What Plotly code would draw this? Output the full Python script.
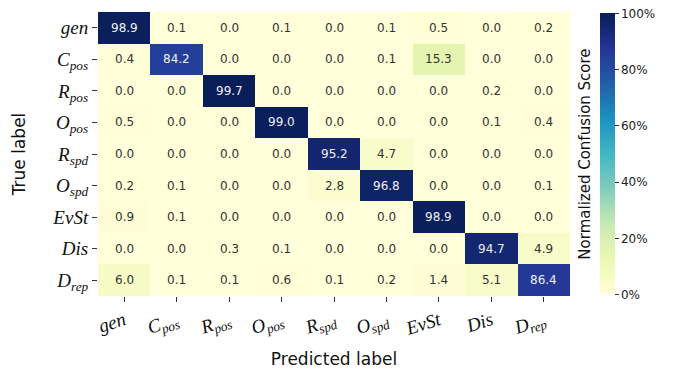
import plotly.graph_objects as go

classes = ["gen", "Cpos", "Rpos", "Opos", "Rspd", "Ospd", "EvSt", "Dis", "Drep"]
class_labels = ["<i>gen</i>", "<i>C</i><sub><i>pos</i></sub>", "<i>R</i><sub><i>pos</i></sub>",
                "<i>O</i><sub><i>pos</i></sub>", "<i>R</i><sub><i>spd</i></sub>", "<i>O</i><sub><i>spd</i></sub>",
                "<i>EvSt</i>", "<i>Dis</i>", "<i>D</i><sub><i>rep</i></sub>"]

row_gen  = [98.9, 0.1, 0.0, 0.1, 0.0, 0.1, 0.5, 0.0, 0.2]
row_cpos = [0.4, 84.2, 0.0, 0.0, 0.0, 0.1, 15.3, 0.0, 0.0]
row_rpos = [0.0, 0.0, 99.7, 0.0, 0.0, 0.0, 0.0, 0.2, 0.0]
row_opos = [0.5, 0.0, 0.0, 99.0, 0.0, 0.0, 0.0, 0.1, 0.4]
row_rspd = [0.0, 0.0, 0.0, 0.0, 95.2, 4.7, 0.0, 0.0, 0.0]
row_ospd = [0.2, 0.1, 0.0, 0.0, 2.8, 96.8, 0.0, 0.0, 0.1]
row_evst = [0.9, 0.1, 0.0, 0.0, 0.0, 0.0, 98.9, 0.0, 0.0]
row_dis  = [0.0, 0.0, 0.3, 0.1, 0.0, 0.0, 0.0, 94.7, 4.9]
row_drep = [6.0, 0.1, 0.1, 0.6, 0.1, 0.2, 1.4, 5.1, 86.4]

z = [row_gen, row_cpos, row_rpos, row_opos, row_rspd, row_ospd, row_evst, row_dis, row_drep]

cbar_vals = [0, 20, 40, 60, 80, 100]
cbar_text = ["0%", "20%", "40%", "60%", "80%", "100%"]

ylgnbu = ["#ffffd9", "#edf8b1", "#c7e9b4", "#7fcdbb", "#41b6c4",
          "#1d91c0", "#225ea8", "#253494", "#081d58"]
colorscale = [[i / (len(ylgnbu) - 1), c] for i, c in enumerate(ylgnbu)]

fig = go.Figure()
fig.add_trace(go.Heatmap(
    z=z, x=classes, y=classes, zmin=0, zmax=100,
    colorscale=colorscale, xgap=0, ygap=0,
    colorbar=dict(
        x=1.063, xanchor="left", xpad=0, ypad=0, y=0.5, yanchor="middle", len=0.99,
        thickness=15, outlinewidth=0, ticks="outside", ticklen=4,
        tickcolor="#333", tickmode="array", tickvals=cbar_vals, ticktext=cbar_text,
        tickfont=dict(family="DejaVu Sans", size=12, color="#222"),
    ),
    hoverinfo="skip",
))

for i, rname in enumerate(classes):
    for j, cname in enumerate(classes):
        v = z[i][j]
        fig.add_annotation(
            x=cname, y=rname, text=f"{v:.1f}", showarrow=False,
            font=dict(family="DejaVu Sans", size=12,
                      color="#f0f0f0" if v > 50 else "#333333"),
        )

fig.add_annotation(
    xref="paper", yref="paper", x=1.031, y=0.5, text="Normalized Confusion Score",
    textangle=-90, showarrow=False, xanchor="center", yanchor="middle",
    font=dict(family="DejaVu Sans", size=15, color="#111"),
)

fig.update_xaxes(
    tickvals=classes, ticktext=class_labels, tickangle=-18,
    ticks="outside", ticklen=5, tickcolor="#333", showgrid=False, zeroline=False,
    tickfont=dict(family="Liberation Serif", size=19, color="#111"),
    title=dict(text="Predicted label", font=dict(family="DejaVu Sans", size=17, color="#111"), standoff=13),
)
fig.update_yaxes(
    tickvals=classes, ticktext=class_labels, autorange="reversed",
    ticks="outside", ticklen=5, tickcolor="#333", showgrid=False, zeroline=False,
    tickfont=dict(family="Liberation Serif", size=19, color="#111"),
    title=dict(text="True label", font=dict(family="DejaVu Sans", size=17, color="#111"), standoff=22),
)

fig.update_layout(
    width=675, height=372,
    margin=dict(l=98, r=105, t=12, b=76, autoexpand=False),
    paper_bgcolor="white", plot_bgcolor="white",
)

fig.write_html("out.html", config={"displayModeBar": False},
               post_script="document.body.style.margin='0';")
